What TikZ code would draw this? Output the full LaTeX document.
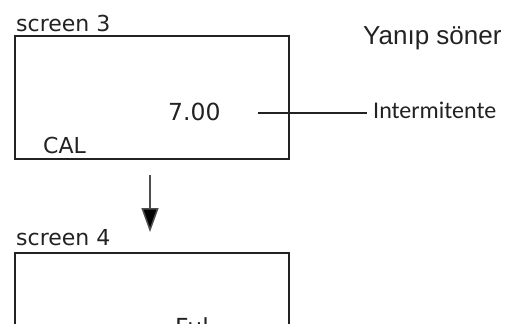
\documentclass[tikz,border=0pt]{standalone}
\usepackage{fontspec}
\newfontfamily\dvfont{DejaVu Sans}
\newfontfamily\cbfont{Carlito}
\newfontfamily\lsfont{Liberation Sans}
\usetikzlibrary{arrows.meta}
\definecolor{ink}{HTML}{222222}
\begin{document}
\begin{tikzpicture}[x=1pt,y=-1pt,
  lbl/.style={inner sep=0pt, anchor=base west, text=ink},
  screen/.style={draw=ink, line width=2pt, inner sep=0pt, anchor=north west, minimum width=274pt},
]
\useasboundingbox (0,0) rectangle (509,324);
\clip (0,0) rectangle (509,324);
% screen 3
\node[lbl, font=\dvfont\fontsize{22}{24}\selectfont] (s3) at (16,31) {screen 3};
\node[screen, minimum height=123pt] (box1) at (14,35) {};
\node[lbl, font=\dvfont\fontsize{23.5}{26}\selectfont] (val) at (168,120.5) {7.00};
\node[lbl, font=\dvfont\fontsize{22}{24}\selectfont] (cal) at (43,153) {CAL};
% labels at right
\node[lbl, font=\lsfont\fontsize{26}{28}\selectfont] (yan) at (363,44.3) {Yanıp söner};
\node[lbl, inner xsep=6pt, font=\cbfont\fontsize{24}{26}\selectfont] (int) at (367,118) {Intermitente};
\coordinate (p) at (258,113);
\draw[line width=1.2pt, ink] (p) -- (int.west |- p);
% arrow
\coordinate (a1) at (150,175);
\coordinate (a2) at (150,232);
\draw[line width=1.5pt, draw=ink!80, -{Triangle[length=24pt,width=17pt,fill=black]}] (a1) -- (a2);
% screen 4
\node[lbl, font=\dvfont\fontsize{22}{24}\selectfont] (s4) at (16,245.5) {screen 4};
\node[screen, minimum height=150pt] (box2) at (14,252) {};
\node[lbl, font=\dvfont\fontsize{23.5}{26}\selectfont] (ful) at (175,335) {Ful};
\end{tikzpicture}
\end{document}
